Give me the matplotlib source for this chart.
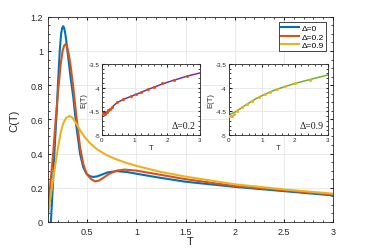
import numpy as np
import matplotlib.pyplot as plt

plt.rcParams['font.family'] = ['Liberation Sans', 'DejaVu Sans']

# main curves C(T)
T_d0 = [0.131, 0.154, 0.17, 0.189, 0.205, 0.222, 0.235, 0.246, 0.256, 0.266, 0.278, 0.29, 0.31, 0.33, 0.358, 0.39,
        0.427, 0.46, 0.495, 0.53, 0.56, 0.60, 0.65, 0.71, 0.80, 0.90, 1.0, 1.2, 1.5, 2.0, 2.5, 3.0]
C_d0 = [0.0, 0.243, 0.44, 0.635, 0.83, 1.01, 1.10, 1.135, 1.145, 1.135, 1.10, 1.045, 0.95, 0.85, 0.733, 0.56,
        0.40, 0.32, 0.28, 0.267, 0.263, 0.266, 0.277, 0.29, 0.297, 0.292, 0.282, 0.262, 0.235, 0.205, 0.18, 0.155]

T_d2 = [0.10, 0.125, 0.154, 0.18, 0.205, 0.23, 0.25, 0.265, 0.28, 0.293, 0.31, 0.33, 0.358, 0.39, 0.427, 0.46,
        0.495, 0.54, 0.58, 0.62, 0.66, 0.72, 0.80, 0.88, 1.0, 1.2, 1.5, 2.0, 2.5, 3.0]
C_d2 = [0.047, 0.22, 0.40, 0.60, 0.77, 0.92, 1.0, 1.03, 1.04, 1.03, 0.99, 0.92, 0.79, 0.62, 0.44, 0.34,
        0.28, 0.25, 0.237, 0.242, 0.256, 0.28, 0.30, 0.306, 0.30, 0.28, 0.25, 0.21, 0.185, 0.16]

T_d9 = [0.10, 0.125, 0.154, 0.18, 0.205, 0.23, 0.256, 0.285, 0.318, 0.35, 0.39, 0.427, 0.47, 0.53,
        0.60, 0.70, 0.80, 0.90, 1.0, 1.25, 1.5, 2.0, 2.5, 3.0]
C_d9 = [0.03, 0.14, 0.25, 0.35, 0.44, 0.52, 0.576, 0.608, 0.62, 0.61, 0.575, 0.537, 0.50, 0.46,
        0.425, 0.39, 0.365, 0.345, 0.328, 0.292, 0.265, 0.22, 0.19, 0.165]

# inset E(T), delta = 0.2
Ti_2 = [0.0, 0.1, 0.2, 0.3, 0.45, 0.65, 0.9, 1.16, 1.4, 1.67, 1.9, 2.17, 2.45, 2.7, 3.0]
Ei_2 = [-4.52, -4.53, -4.50, -4.42, -4.32, -4.25, -4.18, -4.11, -4.04, -3.97, -3.91, -3.85, -3.79, -3.74, -3.69]
Tm_2 = [0.0, 0.05, 0.1, 0.15, 0.2, 0.25, 0.3, 0.45, 0.65, 0.9, 1.05, 1.2, 1.4, 1.6, 1.85, 2.2, 2.6]
Em_2 = [-4.53, -4.55, -4.56, -4.52, -4.48, -4.44, -4.40, -4.31, -4.24, -4.18, -4.14, -4.09, -4.03, -3.98, -3.91, -3.84, -3.76]

# inset E(T), delta = 0.9
Ti_9 = [0.0, 0.15, 0.33, 0.5, 0.64, 0.85, 1.09, 1.35, 1.64, 2.0, 2.5, 3.0]
Ei_9 = [-4.57, -4.53, -4.45, -4.37, -4.31, -4.22, -4.14, -4.06, -3.99, -3.91, -3.82, -3.73]
Tm_9 = [0.0, 0.05, 0.1, 0.15, 0.25, 0.4, 0.55, 0.7, 0.9, 1.1, 1.25, 1.45, 1.7, 2.0, 2.45]
Em_9 = [-4.59, -4.60, -4.59, -4.56, -4.50, -4.41, -4.34, -4.28, -4.20, -4.13, -4.09, -4.03, -3.97, -3.91, -3.83]

blue, orange, yellow = '#0072BD', '#D95319', '#EDB120'
purple, green = '#7E2F8E', '#77AC30'


def style(ax, fs, minor=True):
    ax.tick_params(direction='in', which='both', top=True, right=True, labelsize=fs,
                   color='#262626', labelcolor='#262626', length=2.5)
    ax.tick_params(which='minor', length=1.5)
    if minor:
        ax.minorticks_on()
    ax.grid(True, color='#e6e6e6', lw=0.6)
    ax.set_axisbelow(True)
    for s in ax.spines.values():
        s.set_color('#262626')
        s.set_linewidth(0.6)


fig = plt.figure(figsize=(3.68, 2.51), dpi=100)
ax = fig.add_axes([0.130, 0.112, 0.775, 0.817])
ax.plot(T_d0, C_d0, color=blue, lw=1.5, label='Δ=0')
ax.plot(T_d2, C_d2, color=orange, lw=1.5, label='Δ=0.2')
ax.plot(T_d9, C_d9, color=yellow, lw=1.5, label='Δ=0.9')
ax.set_xlim(0.1, 3)
ax.set_ylim(0, 1.2)
ax.set_xticks([0.5, 1, 1.5, 2, 2.5, 3])
ax.set_xticklabels(['0.5', '1', '1.5', '2', '2.5', '3'])
ax.set_yticks([0, 0.2, 0.4, 0.6, 0.8, 1, 1.2])
ax.set_yticklabels(['0', '0.2', '0.4', '0.6', '0.8', '1', '1.2'])
style(ax, 6.5)
ax.set_xlabel('T', fontsize=8, labelpad=0, color='#262626')
ax.set_ylabel('C(T)', fontsize=8, labelpad=8, color='#262626')
leg = ax.legend(loc='upper right', fontsize=6, handlelength=2.2, handletextpad=0.3,
                borderpad=0.25, labelspacing=0.1, fancybox=False, framealpha=1,
                bbox_to_anchor=(0.975, 0.975), borderaxespad=0)
leg.get_frame().set_edgecolor('#262626')
leg.get_frame().set_linewidth(0.6)

for pos, Tl, El, Tm, Em, lc, mc, lab in [
        ([0.277, 0.458, 0.266, 0.283], Ti_2, Ei_2, Tm_2, Em_2, purple, orange, 'Δ=0.2'),
        ([0.622, 0.458, 0.269, 0.283], Ti_9, Ei_9, Tm_9, Em_9, green, yellow, 'Δ=0.9')]:
    ai = fig.add_axes(pos)
    ai.plot(Tl, El, color=lc, lw=1.1, zorder=2)
    ai.plot(Tm, Em, 'o', color=mc, ms=2.2, mew=0, zorder=3)
    ai.set_xlim(0, 3)
    ai.set_ylim(-5, -3.5)
    ai.set_xticks([0, 1, 2, 3])
    ai.set_yticks([-5, -4.5, -4, -3.5])
    ai.set_yticklabels(['-5', '-4.5', '-4', '-3.5'])
    style(ai, 4.5)
    ai.tick_params(length=1.8, pad=1.5)
    ai.set_xlabel('T', fontsize=5.5, labelpad=1, color='#262626')
    ai.set_ylabel('E(T)', fontsize=5.5, labelpad=1, color='#262626')
    ai.text(0.96, 0.07, lab, transform=ai.transAxes, ha='right', va='bottom',
            fontsize=7, family=['Liberation Serif', 'DejaVu Serif'], color='#1a1a1a')

fig.savefig('out.png', dpi=100)
